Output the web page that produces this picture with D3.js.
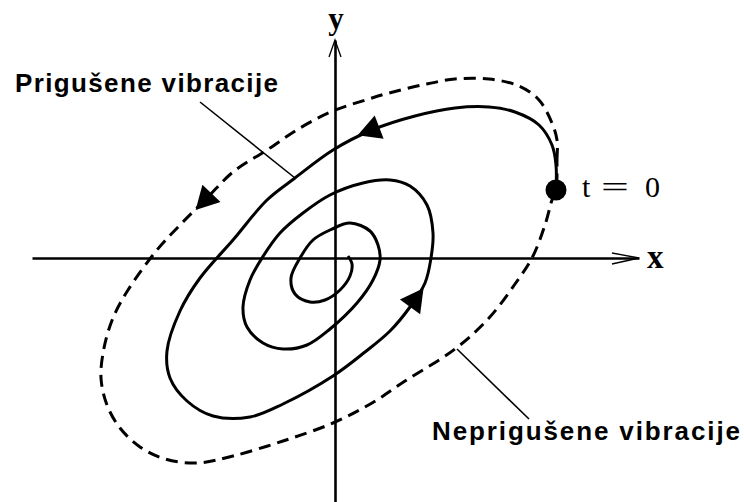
<!DOCTYPE html>
<html>
<head>
<meta charset="utf-8">
<title>Prigušene i neprigušene vibracije</title>
<style>
  body { margin: 0; background: #fff; }
  svg { display: block; }
</style>
</head>
<body>
<svg width="744" height="502"></svg>
<script src="https://d3js.org/d3.v7.min.js"></script>
<script>
// phase plane, units are arbitrary (origin = 0,0)

// undamped motion: closed loop, counter-clockwise from t = 0
var undamped = [
  [22.1, 6.8], [22.2, 9.8], [22.2, 11.8], [21.7, 13.5], [20.4, 15.8], [18.4, 17.2],
  [15.4, 17.9], [12.0, 17.9], [8.7, 17.3], [5.4, 16.5], [3.7, 16.0], [-0.2, 14.7],
  [-3.5, 13.0], [-6.8, 10.8], [-10.2, 8.6], [-12.8, 6.0], [-15.5, 3.3], [-17.8, 0.8],
  [-20.7, -3.2], [-22.2, -6.0], [-23.1, -9.0], [-23.4, -12.0], [-22.8, -14.7],
  [-21.5, -17.0], [-19.5, -18.9], [-17.0, -20.1], [-13.8, -20.5], [-10.2, -19.8],
  [-5.2, -18.3], [-0.2, -16.5], [3.7, -14.5], [7.0, -12.3], [12.0, -9.1], [15.4, -6.0],
  [18.0, -2.6], [19.7, 0.0], [21.0, 3.3], [21.7, 5.8]
];

// damped motion: spiral into the origin
var damped = [
  [22.1, 6.8], [22.1, 9.3], [21.7, 11.3], [20.4, 13.3], [18.0, 14.6], [15.4, 15.1],
  [12.0, 15.0], [8.0, 14.2], [3.7, 12.8], [-0.2, 10.8], [-4.0, 8.0], [-6.8, 5.8],
  [-10.2, 1.8], [-13.5, -2.0], [-15.5, -5.3], [-16.8, -9.3], [-16.5, -12.0],
  [-14.8, -14.3], [-12.2, -15.8], [-8.5, -15.9], [-5.2, -14.6], [-0.2, -11.8],
  [3.0, -9.4], [5.5, -7.3], [7.5, -4.9], [9.0, -2.5], [9.6, 0.0], [9.8, 2.5],
  [9.2, 5.3], [7.5, 7.2], [5.5, 7.8], [2.8, 7.5], [-0.5, 6.3],
  [-3.2, 4.5], [-5.5, 2.5], [-7.3, 0.0], [-8.5, -2.2], [-9.2, -4.9], [-8.8, -6.9],
  [-7.2, -8.5], [-5.2, -9.1], [-2.8, -8.7], [-0.5, -7.1], [2.2, -4.5], [3.8, -2.2],
  [4.5, -0.2], [4.3, 1.3], [3.5, 2.7], [1.5, 3.5], [-0.5, 2.8], [-2.2, 1.8],
  [-3.5, 0.0], [-4.4, -2.0], [-4.0, -3.6], [-2.5, -4.4], [-1.0, -4.2], [0.5, -3.2],
  [1.5, -1.8], [1.7, -0.6], [1.3, 0.2]
];

var startPoint = [22.1, 6.8];

// where the direction arrows sit (base of the arrow, on the curve)
var dampedArrows = [[4.5, 13.0], [7.5, -4.9]];
var undampedArrows = [[-12.4, 6.5]];

var xAxisExtent = [-30.3, 30.4];
var yAxisExtent = [-24.4, 21.8];

var leaders = [
  [[-13.5, 15.6], [-4.0, 8.0]],
  [[12.2, -9.1], [19.4, -16.1]]
];

var labels = [
  {text: "Prigušene vibracije", pos: [-32.0, 16.6], len: 263},
  {text: "Neprigušene vibracije", pos: [9.7, -18.2], len: 308}
];

var svg = d3.select("svg"),
    width = +svg.attr("width"),
    height = +svg.attr("height");

var x = d3.scaleLinear().domain([-33.5, 40.9]).range([0, width]);
var y = d3.scaleLinear().domain([25.8, -24.4]).range([0, height]);

// axes
var xa = d3.scaleLinear().domain(xAxisExtent).range(xAxisExtent.map(x));
var ya = d3.scaleLinear().domain(yAxisExtent).range(yAxisExtent.map(y));

svg.append("g")
    .attr("class", "x-axis")
    .attr("transform", "translate(0," + y(0) + ")")
    .call(d3.axisBottom(xa).tickValues([]).tickSizeOuter(0))
  .select(".domain")
    .attr("stroke", "#000")
    .attr("stroke-width", 2.6);

svg.append("g")
    .attr("class", "y-axis")
    .attr("transform", "translate(" + x(0) + ",0)")
    .call(d3.axisLeft(ya).tickValues([]).tickSizeOuter(0))
  .select(".domain")
    .attr("stroke", "#000")
    .attr("stroke-width", 2.6);

// open arrow heads on the axes
var xt = x(xAxisExtent[1]), yt = y(yAxisExtent[1]);
svg.append("path")
    .attr("d", "M" + (xt - 27) + "," + (y(0) - 5) + "L" + xt + "," + y(0) + "L" + (xt - 27) + "," + (y(0) + 6))
    .attr("fill", "none")
    .attr("stroke", "#000")
    .attr("stroke-width", 1.3);
svg.append("path")
    .attr("d", "M" + (x(0) - 6) + "," + (yt + 17) + "L" + x(0) + "," + yt + "L" + (x(0) + 6) + "," + (yt + 17))
    .attr("fill", "none")
    .attr("stroke", "#000")
    .attr("stroke-width", 1.3);

svg.append("text")
    .attr("x", x(31.2))
    .attr("y", y(-1.0))
    .attr("font-family", "Liberation Serif, serif")
    .attr("font-weight", "bold")
    .attr("font-size", 33)
    .text("x");

svg.append("text")
    .attr("x", x(0.1))
    .attr("y", y(22.9))
    .attr("text-anchor", "middle")
    .attr("font-family", "Liberation Serif, serif")
    .attr("font-weight", "bold")
    .attr("font-size", 31)
    .text("y");

// curves
var closedLine = d3.line()
    .x(function(d) { return x(d[0]); })
    .y(function(d) { return y(d[1]); })
    .curve(d3.curveCatmullRomClosed);

var openLine = d3.line()
    .x(function(d) { return x(d[0]); })
    .y(function(d) { return y(d[1]); })
    .curve(d3.curveCatmullRom);

var dashed = svg.append("path")
    .attr("d", closedLine(undamped))
    .attr("fill", "none")
    .attr("stroke", "#000")
    .attr("stroke-width", 3)
    .attr("stroke-dasharray", "12 7");

var spiral = svg.append("path")
    .attr("d", openLine(damped))
    .attr("fill", "none")
    .attr("stroke", "#000")
    .attr("stroke-width", 3);

// arrows: find nearest spot on the curve, point along it
function addArrows(pathSel, bases) {
  var node = pathSel.node(),
      total = node.getTotalLength();
  bases.forEach(function(b) {
    var bx = x(b[0]), by = y(b[1]), best = 0, bestD = Infinity;
    for (var l = 0; l < total; l += 1) {
      var p = node.getPointAtLength(l),
          dd = (p.x - bx) * (p.x - bx) + (p.y - by) * (p.y - by);
      if (dd < bestD) { bestD = dd; best = l; }
    }
    var p0 = node.getPointAtLength(best),
        p1 = node.getPointAtLength(Math.min(best + 2, total)),
        ang = Math.atan2(p1.y - p0.y, p1.x - p0.x) * 180 / Math.PI;
    svg.append("path")
        .attr("d", "M23,0L0,-12.5L0,12.5Z")
        .attr("transform", "translate(" + p0.x + "," + p0.y + ") rotate(" + ang + ")")
        .attr("fill", "#000");
  });
}
addArrows(spiral, dampedArrows);
addArrows(dashed, undampedArrows);

// leader lines and labels
svg.selectAll(".leader")
    .data(leaders)
  .enter().append("line")
    .attr("class", "leader")
    .attr("x1", function(d) { return x(d[0][0]); })
    .attr("y1", function(d) { return y(d[0][1]); })
    .attr("x2", function(d) { return x(d[1][0]); })
    .attr("y2", function(d) { return y(d[1][1]); })
    .attr("stroke", "#000")
    .attr("stroke-width", 1.6);

svg.selectAll(".label")
    .data(labels)
  .enter().append("text")
    .attr("class", "label")
    .attr("x", function(d) { return x(d.pos[0]); })
    .attr("y", function(d) { return y(d.pos[1]); })
    .attr("textLength", function(d) { return d.len; })
    .attr("lengthAdjust", "spacing")
    .attr("font-family", "Liberation Sans, Arial, sans-serif")
    .attr("font-weight", "bold")
    .attr("font-size", 26)
    .text(function(d) { return d.text; });

// start point
svg.append("circle")
    .attr("cx", x(startPoint[0]))
    .attr("cy", y(startPoint[1]))
    .attr("r", 10.5)
    .attr("fill", "#000");

// "t = 0" with a wide equals sign
var t0 = svg.append("g")
    .attr("transform", "translate(" + x(24.7) + "," + y(6.1) + ")")
    .attr("font-family", "Liberation Serif, serif")
    .attr("font-size", 30);
t0.append("text").attr("x", 0).text("t");
t0.append("text")
    .attr("transform", "translate(19,0) scale(1.65,1)")
    .text("=");
t0.append("text").attr("x", 63).text("0");
</script>
</body>
</html>
